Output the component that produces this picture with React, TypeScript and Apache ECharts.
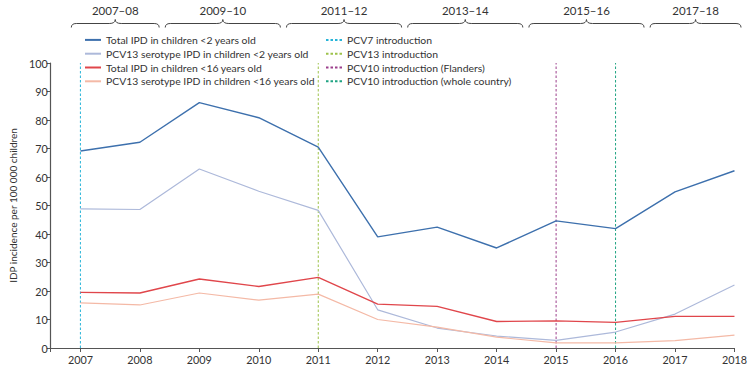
import React, { useEffect, useRef } from "react";
import * as echarts from "echarts";

const years = [2007, 2008, 2009, 2010, 2011, 2012, 2013, 2014, 2015, 2016, 2017, 2018];
const totalUnder2 = [69.1, 72.2, 86.1, 80.8, 70.5, 39.0, 42.4, 35.1, 44.6, 41.9, 54.8, 62.2];
const pcv13Under2 = [48.8, 48.6, 62.8, 55.0, 48.3, 13.4, 7.0, 4.2, 2.7, 5.6, 11.9, 22.1];
const totalUnder16 = [19.5, 19.3, 24.2, 21.6, 24.8, 15.4, 14.6, 9.3, 9.5, 9.0, 11.1, 11.1];
const pcv13Under16 = [15.8, 15.1, 19.3, 16.8, 18.9, 10.0, 7.3, 3.8, 1.8, 1.8, 2.6, 4.5];

const introductions = [
  { name: "PCV7 introduction", year: 2007, color: "#27b4d8" },
  { name: "PCV13 introduction", year: 2011, color: "#9dc24a" },
  { name: "PCV10 introduction (Flanders)", year: 2015, color: "#9c3f8c" },
  { name: "PCV10 introduction (whole country)", year: 2016, color: "#1fa382" },
];

const seasons = ["2007–08", "2009–10", "2011–12", "2013–14", "2015–16", "2017–18"];
const seasonStart = [2007, 2008.55, 2010.55, 2012.55, 2014.55, 2016.55];
const seasonEnd = [2008.45, 2010.45, 2012.45, 2014.45, 2016.45, 2018.05];

const FONT = "Lato, 'Noto Sans', sans-serif";
const GRID = { left: 41, right: 12, top: 63, bottom: 27 };
const W = 750;
const X_MIN = 2006.5;
const X_MAX = 2018;

function xPix(yr: number) {
  const w = W - GRID.left - GRID.right;
  return GRID.left + ((yr - X_MIN) / (X_MAX - X_MIN)) * w;
}

export default function App() {
  const ref = useRef<HTMLDivElement>(null);
  useEffect(() => {
    if (!ref.current) return;
    document.body.style.margin = "0";
    const chart = echarts.init(ref.current, undefined, { renderer: "svg" });

    const graphics: any[] = [];
    seasons.forEach((label, i) => {
      const x1 = xPix(seasonStart[i]);
      const x2 = xPix(seasonEnd[i]);
      const xc = (x1 + x2) / 2;
      const yb = 23.5;
      const d = `M ${x1} 27.5 Q ${x1} ${yb} ${x1 + 5} ${yb} L ${xc - 6} ${yb} Q ${xc} ${yb} ${xc} 19.5 Q ${xc} ${yb} ${xc + 6} ${yb} L ${x2 - 5} ${yb} Q ${x2} ${yb} ${x2} 27.5`;
      const name = "brace" + i;
      echarts.graphic.registerShape(name, echarts.graphic.extendPath(d, {}) as any);
      graphics.push({
        type: name,
        x: 0,
        y: 0,
        style: { stroke: "#444", fill: "none", lineWidth: 1 },
        silent: true,
      });
      graphics.push({
        type: "text",
        x: xc,
        y: 10,
        style: {
          text: label,
          fill: "#333",
          font: `11.5px ${FONT}`,
          textAlign: "center",
          textVerticalAlign: "middle",
        },
      });
    });

    const dataSeries = [
      { name: "Total IPD in children <2 years old", data: totalUnder2, color: "#3d70ad", width: 1.4 },
      { name: "PCV13 serotype IPD in children <2 years old", data: pcv13Under2, color: "#adb9da", width: 1.2 },
      { name: "Total IPD in children <16 years old", data: totalUnder16, color: "#e0464b", width: 1.4 },
      { name: "PCV13 serotype IPD in children <16 years old", data: pcv13Under16, color: "#f4b9a6", width: 1.2 },
    ];

    const series: any[] = [];
    introductions.forEach((v) => {
      series.push({
        name: v.name,
        type: "line",
        symbol: "none",
        z: 1,
        data: [
          [v.year, 0],
          [v.year, 100],
        ],
        lineStyle: { color: v.color, width: 1, type: [2.5, 2] },
        itemStyle: { color: v.color },
      });
    });
    dataSeries.forEach((s) => {
      series.push({
        name: s.name,
        type: "line",
        symbol: "none",
        z: 3,
        data: years.map((y, i) => [y, s.data[i]]),
        lineStyle: { color: s.color, width: s.width },
        itemStyle: { color: s.color },
      });
    });

    const legendCommon = {
      orient: "vertical",
      itemWidth: 16,
      itemHeight: 10,
      itemGap: 0,
      itemStyle: { opacity: 0 },
      textStyle: { fontFamily: FONT, fontSize: 10.4, lineHeight: 13.8, color: "#333" },
      selectedMode: false,
      padding: 0,
    };

    chart.setOption({
      animation: false,
      backgroundColor: "#fff",
      grid: GRID,
      legend: [
        { ...legendCommon, left: 84, top: 33, data: dataSeries.map((s) => s.name) },
        { ...legendCommon, left: 325, top: 33, data: introductions.map((s) => s.name) },
      ],
      xAxis: {
        type: "value",
        min: X_MIN,
        max: X_MAX,
        splitLine: { show: false },
        axisLine: { lineStyle: { color: "#555", width: 1.2 } },
        axisTick: {
          show: true,
          length: 4,
          customValues: [2006.5, ...years],
          lineStyle: { color: "#555" },
        },
        axisLabel: {
          customValues: years,
          formatter: (v: number) => String(v),
          color: "#333",
          fontFamily: FONT,
          fontSize: 10.8,
          margin: 6,
        },
      },
      yAxis: {
        type: "value",
        min: 0,
        max: 100,
        interval: 10,
        name: "IDP incidence per 100 000 children",
        nameLocation: "middle",
        nameGap: 32,
        nameTextStyle: { fontFamily: FONT, fontSize: 10, color: "#333" },
        splitLine: { show: false },
        axisLine: { show: true, lineStyle: { color: "#555", width: 1.2 } },
        axisTick: { show: true, length: 4, lineStyle: { color: "#555" } },
        axisLabel: { color: "#333", fontFamily: FONT, fontSize: 10.8, margin: 3 },
      },
      graphic: graphics,
      series,
    });

    return () => chart.dispose();
  }, []);

  return <div ref={ref} style={{ width: 750, height: 375 }} />;
}
